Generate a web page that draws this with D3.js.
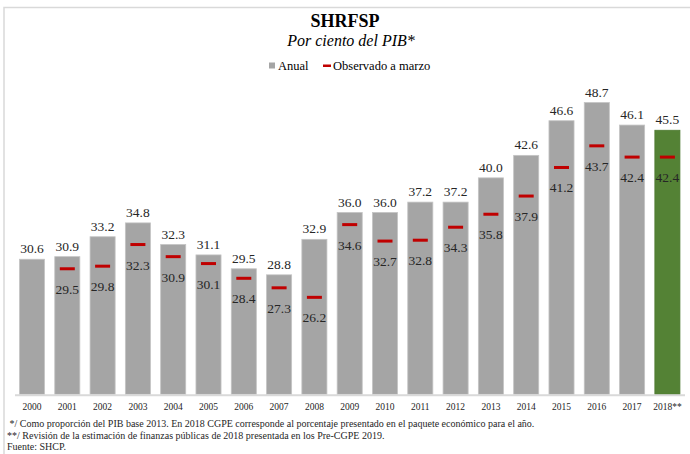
<!DOCTYPE html>
<html lang="es">
<head>
<meta charset="utf-8">
<title>SHRFSP</title>
<script src="https://cdn.jsdelivr.net/npm/d3@7"></script>
<style>
  body { margin: 0; background: #fff; }
  svg { display: block; font-family: "Liberation Serif", "Times New Roman", serif; }
</style>
</head>
<body>
<div id="chart"></div>
<script>
  // datos
  const years = ['2000', '2001', '2002', '2003', '2004', '2005', '2006', '2007', '2008', '2009',
    '2010', '2011', '2012', '2013', '2014', '2015', '2016', '2017', '2018**'];
  const anual = [30.6, 30.9, 33.2, 34.8, 32.3, 31.1, 29.5, 28.8, 32.9, 36.0,
    36.0, 37.2, 37.2, 40.0, 42.6, 46.6, 48.7, 46.1, 45.5];
  const marzo = [null, 29.5, 29.8, 32.3, 30.9, 30.1, 28.4, 27.3, 26.2, 34.6,
    32.7, 32.8, 34.3, 35.8, 37.9, 41.2, 43.7, 42.4, 42.4];
  const notes = [
    ' */ Como proporción del PIB base 2013. En 2018 CGPE corresponde al porcentaje presentado en el paquete económico para el año.',
    '**/ Revisión de la estimación de finanzas públicas de 2018 presentada en los Pre-CGPE 2019.',
    'Fuente: SHCP.'
  ];

  const width = 690, height = 454;
  const gray = '#a5a5a5', green = '#548235', red = '#c00000';

  const svg = d3.select('#chart').append('svg').attr('width', width).attr('height', height);

  // marco
  svg.append('path')
    .attr('d', 'M4,454 V7.5 H690')
    .attr('fill', 'none').attr('stroke', '#d9d9d9').attr('stroke-width', 1.5);

  // titulos
  svg.append('text').attr('x', 345).attr('y', 27).attr('text-anchor', 'middle')
    .attr('font-size', 18).attr('font-weight', 'bold').text('SHRFSP');
  svg.append('text').attr('x', 351).attr('y', 46).attr('text-anchor', 'middle')
    .attr('font-size', 16).attr('font-style', 'italic').text('Por ciento del PIB*');

  // leyenda
  const legend = svg.append('g').attr('font-size', 12.5);
  legend.append('rect').attr('x', 269).attr('y', 62.5).attr('width', 6).attr('height', 6).attr('fill', gray);
  legend.append('text').attr('x', 278).attr('y', 70).text('Anual');
  legend.append('rect').attr('x', 323).attr('y', 64.5).attr('width', 8).attr('height', 2.5).attr('fill', red);
  legend.append('text').attr('x', 333).attr('y', 70).text('Observado a marzo');

  // escalas
  const x = d3.scaleBand().domain(years).range([14.35, 685.05]).paddingInner(0.29).paddingOuter(0.145);
  const y = d3.scaleLinear().domain([15, 50]).range([394.3, 91.3]);

  const data = years.map((yr, i) => ({ year: yr, anual: anual[i], marzo: marzo[i], last: i === years.length - 1 }));

  // barras
  svg.append('g').selectAll('rect').data(data).join('rect')
    .attr('x', d => x(d.year))
    .attr('y', d => y(d.anual))
    .attr('width', x.bandwidth())
    .attr('height', d => y(15) - y(d.anual))
    .attr('fill', d => d.last ? green : gray)
    .attr('stroke', d => d.last ? '#4e7a31' : '#c4c4c4')
    .attr('stroke-width', 0.8);

  // linea base
  svg.append('line')
    .attr('x1', 15).attr('x2', 685).attr('y1', y(15) + 1).attr('y2', y(15) + 1)
    .attr('stroke', '#d9d9d9').attr('stroke-width', 2);

  // etiquetas anuales
  svg.append('g').attr('font-size', 13.5).attr('text-anchor', 'middle').attr('fill', '#262626')
    .selectAll('text').data(data).join('text')
    .attr('x', d => x(d.year) + x.bandwidth() / 2)
    .attr('y', d => y(d.anual) - 6)
    .text(d => d.anual.toFixed(1));

  // marcas observado a marzo
  const obs = data.filter(d => d.marzo !== null);
  svg.append('g').selectAll('rect').data(obs).join('rect')
    .attr('x', d => x(d.year) + x.bandwidth() / 2 - 7.5)
    .attr('y', d => y(d.marzo) - 1.5)
    .attr('width', 15).attr('height', 3)
    .attr('fill', red);

  svg.append('g').attr('font-size', 13.5).attr('text-anchor', 'middle').attr('fill', '#262626')
    .selectAll('text').data(obs).join('text')
    .attr('x', d => x(d.year) + x.bandwidth() / 2)
    .attr('y', d => y(d.marzo) + 25)
    .text(d => d.marzo.toFixed(1));

  // eje x
  const axis = d3.axisBottom(x).tickSize(0).tickPadding(0);
  const gx = svg.append('g').attr('transform', `translate(0,${y(15)})`).call(axis);
  gx.select('.domain').remove();
  gx.selectAll('text')
    .attr('y', 16).attr('dy', 0)
    .attr('font-size', 9.5)
    .attr('font-family', '"Liberation Serif", serif')
    .attr('fill', '#262626');

  // notas
  svg.append('g').attr('font-size', 10).attr('fill', '#262626')
    .selectAll('text').data(notes).join('text')
    .attr('x', 7)
    .attr('y', (d, i) => 427 + i * 11.5)
    .attr('xml:space', 'preserve')
    .style('white-space', 'pre')
    .text(d => d);
</script>
</body>
</html>
